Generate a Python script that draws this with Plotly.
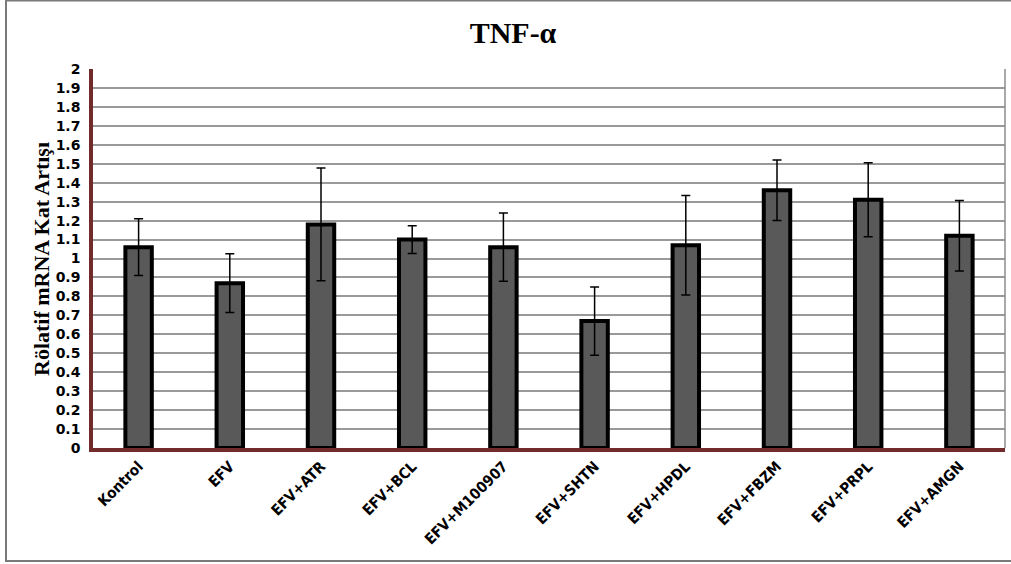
import plotly.graph_objects as go

# Groups and measured relative expression (mean ± SD)
groups = ["Kontrol", "EFV", "EFV+ATR", "EFV+BCL", "EFV+M100907",
          "EFV+SHTN", "EFV+HPDL", "EFV+FBZM", "EFV+PRPL", "EFV+AMGN"]
fold_change = [1.06, 0.87, 1.18, 1.10, 1.06, 0.67, 1.07, 1.36, 1.31, 1.12]
sd = [0.15, 0.155, 0.297, 0.073, 0.18, 0.18, 0.262, 0.16, 0.195, 0.186]

y_ticks = [round(i * 0.1, 1) for i in range(21)]
y_tick_text = [("%g" % v) for v in y_ticks]

W, H = 1011, 564
L, R, T, B = 93, 6, 69, 116
pw, ph = W - L - R, H - T - B

fig = go.Figure()
fig.add_trace(go.Bar(
    x=groups, y=fold_change,
    width=0.29,
    marker=dict(color="#595959", line=dict(color="#000000", width=4)),
    error_y=dict(type="data", array=sd, visible=True,
                 color="#000000", thickness=1.5, width=4.5),
))

axis_red = "#722b2b"
fig.update_layout(
    width=W, height=H,
    margin=dict(l=L, r=R, t=T, b=B),
    paper_bgcolor="white", plot_bgcolor="white",
    showlegend=False,
    title=dict(text="<b>TNF-α</b>", x=513 / W, xref="container", xanchor="center",
               y=1 - 32 / H, yref="container", yanchor="middle",
               font=dict(family="Liberation Serif, Times New Roman, serif",
                         size=30, color="#000000")),
    xaxis=dict(
        showgrid=False, showline=True, linecolor=axis_red, linewidth=3.5,
        tickangle=-45, ticks="",
        tickfont=dict(family="Liberation Sans Narrow, DejaVu Sans Condensed, Arial Narrow, sans-serif",
                      size=15, color="#000000", weight="bold"),
        range=[-0.5, 9.5],
    ),
    yaxis=dict(
        range=[0, 2], tickvals=y_ticks, ticktext=y_tick_text,
        showgrid=True, gridcolor="#999999", gridwidth=1.6,
        showline=True, linecolor=axis_red, linewidth=3.5,
        ticks="", ticklabelstandoff=6,
        tickfont=dict(family="DejaVu Sans, Verdana, sans-serif", size=14,
                      color="#000000", weight="bold"),
        zeroline=False,
    ),
    annotations=[dict(
        text="<b>Rölatif mRNA Kat Artışı</b>", textangle=-90,
        x=(41 - L) / pw, y=(H - B - 259) / ph, xref="paper", yref="paper",
        xanchor="center", yanchor="middle", showarrow=False,
        font=dict(family="Liberation Serif, Times New Roman, serif", size=22, color="#000000"),
    )],
    shapes=[
        # right edge of plotting area
        dict(type="line", xref="paper", yref="paper", x0=1, x1=1, y0=0, y1=1,
             line=dict(color="#8c8c8c", width=1.5), layer="above"),
        # outer chart frame
        dict(type="rect", xref="paper", yref="paper",
             x0=(6 - L) / pw, x1=(1013 - L) / pw,
             y0=(H - B - 561) / ph, y1=(H - B - 0.5) / ph,
             line=dict(color="#7a7a7a", width=2), fillcolor="rgba(0,0,0,0)"),
    ],
)

fig.write_html("out.html")
